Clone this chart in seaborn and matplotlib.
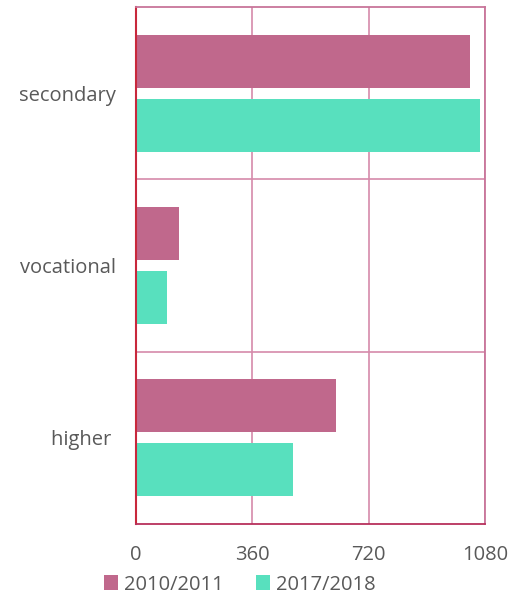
import pandas as pd
import matplotlib.pyplot as plt
import seaborn as sns

# values
levels = ["secondary", "vocational", "higher "]
years = ["2010/2011", "2017/2018"]
values_2010 = [1034, 133, 619]
values_2017 = [1065, 96, 487]
x_ticks = [0, 360, 720, 1080]

df = pd.DataFrame({
    "Level": levels * 2,
    "Year": [years[0]] * 3 + [years[1]] * 3,
    "Count": values_2010 + values_2017,
})

sns.set_theme(style="white")
plt.rcParams["font.family"] = ["Open Sans", "DejaVu Sans"]

fig = plt.figure(figsize=(5.21, 6.0), dpi=100)
ax = fig.add_axes([0.2605, 0.127, 0.6705, 0.861])

palette = {years[0]: "#C0688C", years[1]: "#58E0BE"}
sns.barplot(
    data=df, y="Level", x="Count", hue="Year", palette=palette,
    orient="h", width=0.744, gap=0.172, saturation=1, ax=ax,
    edgecolor="none", legend=True,
)

ax.set_xlim(0, 1080)
ax.set_ylim(2.5, -0.5)
ax.set_xticks(x_ticks)
ax.set_xticklabels([str(t) for t in x_ticks])
ax.set_yticks(range(len(levels)))
ax.set_yticklabels(levels)
ax.set_yticks([0.5, 1.5], minor=True)
ax.set_xlabel("")
ax.set_ylabel("")

grid_col = "#D58AAA"
ax.set_axisbelow(True)
ax.grid(axis="x", which="major", color=grid_col, linewidth=1.2)
ax.grid(axis="y", which="minor", color=grid_col, linewidth=1.2)
ax.grid(axis="y", which="major", visible=False)

for side in ["top", "right"]:
    ax.spines[side].set_color("#C8759A")
    ax.spines[side].set_linewidth(1.3)
ax.spines["left"].set_color("#C8283C")
ax.spines["left"].set_linewidth(1.5)
ax.spines["bottom"].set_color("#B8305C")
ax.spines["bottom"].set_linewidth(1.3)

ax.tick_params(axis="both", which="both", length=0, labelsize=14.5,
               labelcolor="#595959")
ax.tick_params(axis="x", pad=15)
ax.tick_params(axis="y", pad=14)

ax.legend(
    loc="lower center", bbox_to_anchor=(0.298, -0.172),
    ncol=2, frameon=False, fontsize=14.5, handlelength=0.7, handleheight=0.7,
    handletextpad=0.3, columnspacing=1.6, labelcolor="#595959",
)

fig.savefig("out.png", dpi=100)
